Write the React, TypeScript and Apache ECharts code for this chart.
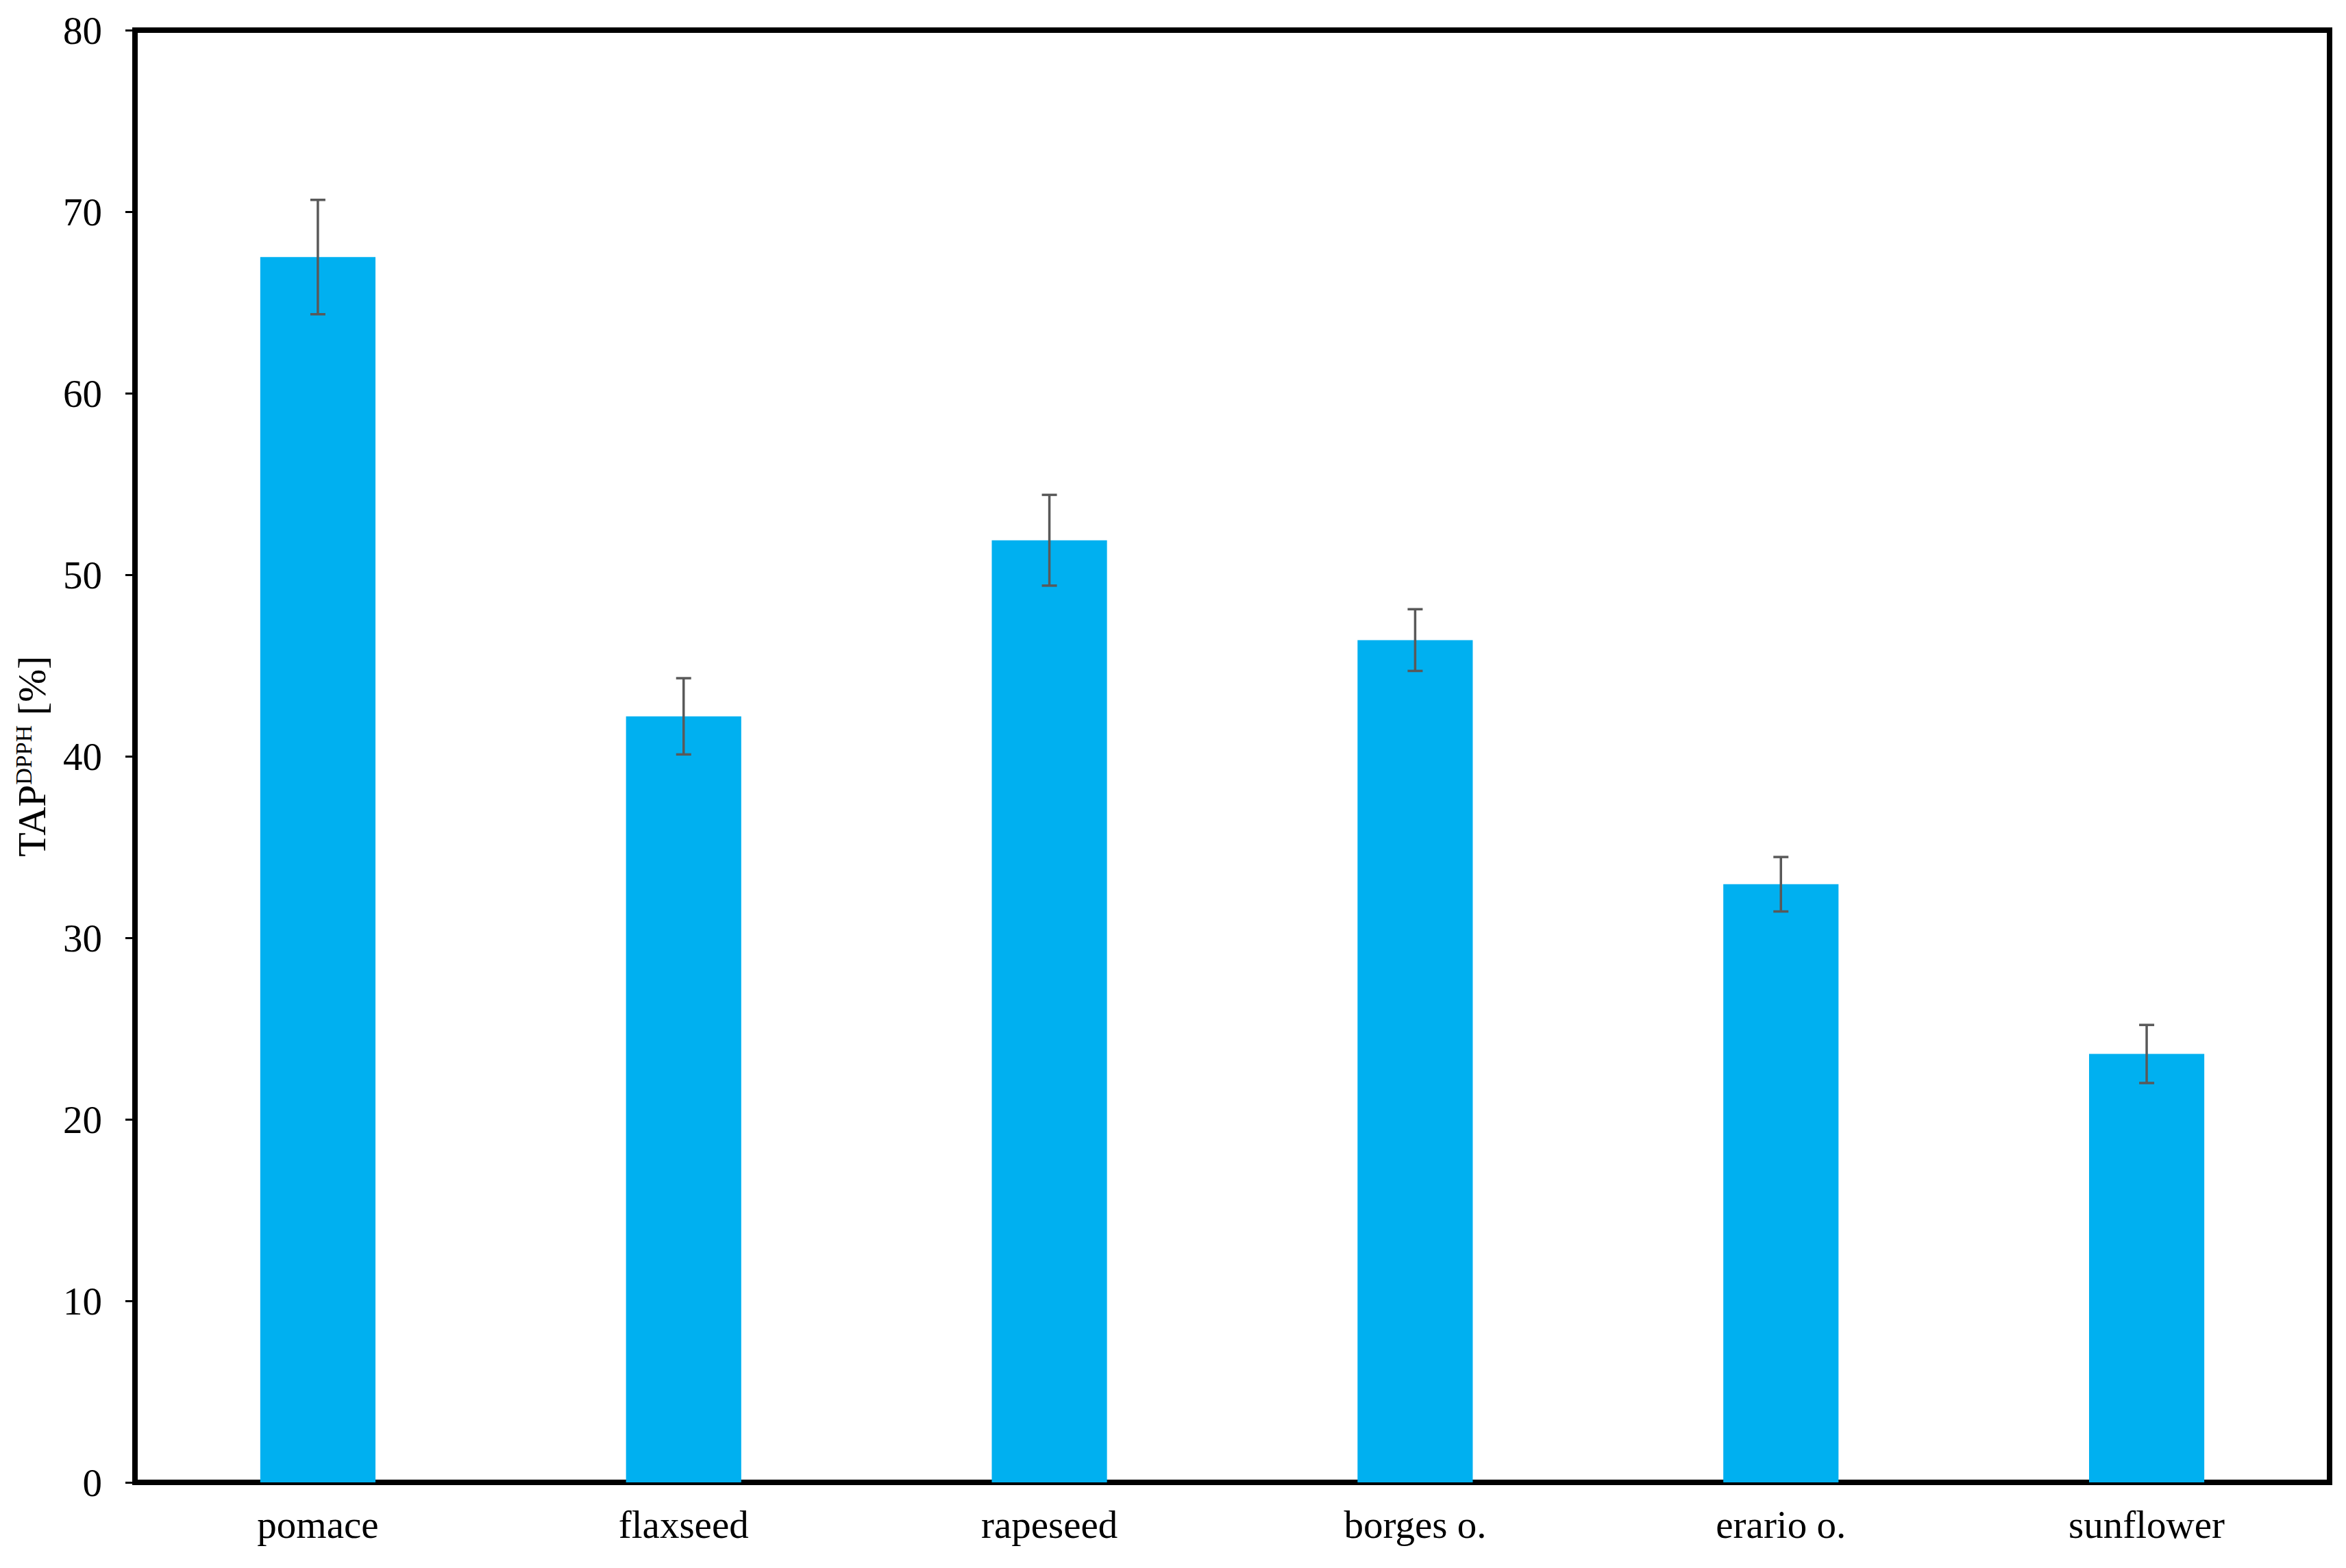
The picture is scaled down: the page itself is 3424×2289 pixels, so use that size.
import React, { useEffect, useRef } from "react";
import * as echarts from "echarts";

const categories = ["pomace", "flaxseed", "rapeseed", "borges o.", "erario o.", "sunflower"];
const values = [67.5, 42.2, 51.9, 46.4, 32.95, 23.6];
const errors = [3.15, 2.1, 2.5, 1.7, 1.5, 1.6];
const yTicks = { min: 0, max: 80, interval: 10 };

const FONT = "'Liberation Serif', 'Times New Roman', serif";

export default function App() {
  const ref = useRef<HTMLDivElement>(null);
  useEffect(() => {
    document.body.style.margin = "0";
    const chart = echarts.init(ref.current!, null, { renderer: "svg" });
    const errorData = categories.map((_, i) => [i, values[i] - errors[i], values[i] + errors[i]]);
    chart.setOption({
      animation: false,
      backgroundColor: "#ffffff",
      grid: {
        left: 197,
        right: 24,
        top: 44,
        bottom: 125,
        show: true,
        borderColor: "#000000",
        borderWidth: 8,
        backgroundColor: "transparent",
      },
      xAxis: {
        type: "category",
        data: categories,
        axisLine: { show: true, lineStyle: { color: "#000", width: 8 } },
        axisTick: { show: false },
        axisLabel: { color: "#000", fontFamily: FONT, fontSize: 57, margin: 33 },
        splitLine: { show: false },
      },
      yAxis: {
        type: "value",
        min: yTicks.min,
        max: yTicks.max,
        interval: yTicks.interval,
        axisLine: { show: true, lineStyle: { color: "#000", width: 8 } },
        axisTick: { show: true, inside: false, length: 14, lineStyle: { color: "#000", width: 3 } },
        axisLabel: { color: "#000", fontFamily: FONT, fontSize: 57, margin: 48 },
        splitLine: { show: false },
        name: "{m|TAP}{s|DPPH}{m| [%]}",
        nameLocation: "middle",
        nameRotate: 90,
        nameGap: 122,
        nameTextStyle: {
          color: "#000",
          fontFamily: FONT,
          rich: {
            m: { fontSize: 58, fontFamily: FONT, color: "#000", lineHeight: 62, verticalAlign: "bottom" },
            s: { fontSize: 34, fontFamily: FONT, color: "#000", lineHeight: 62, verticalAlign: "top", padding: [4, 0, 0, 0] },
          },
        },
      },
      series: [
        {
          type: "bar",
          data: values,
          barWidth: "31.5%",
          itemStyle: { color: "#00B0F0" },
        },
        {
          type: "custom",
          data: errorData,
          z: 10,
          renderItem: (params: any, api: any) => {
            const x = api.value(0);
            const lo = api.coord([x, api.value(1)]);
            const hi = api.coord([x, api.value(2)]);
            const half = 11;
            const style = { stroke: "#595959", lineWidth: 3.5 };
            return {
              type: "group",
              children: [
                { type: "line", shape: { x1: hi[0], y1: hi[1], x2: lo[0], y2: lo[1] }, style },
                { type: "line", shape: { x1: hi[0] - half, y1: hi[1], x2: hi[0] + half, y2: hi[1] }, style },
                { type: "line", shape: { x1: lo[0] - half, y1: lo[1], x2: lo[0] + half, y2: lo[1] }, style },
              ],
            };
          },
        },
      ],
    });
    return () => chart.dispose();
  }, []);
  return <div ref={ref} style={{ width: 3424, height: 2289 }} />;
}
